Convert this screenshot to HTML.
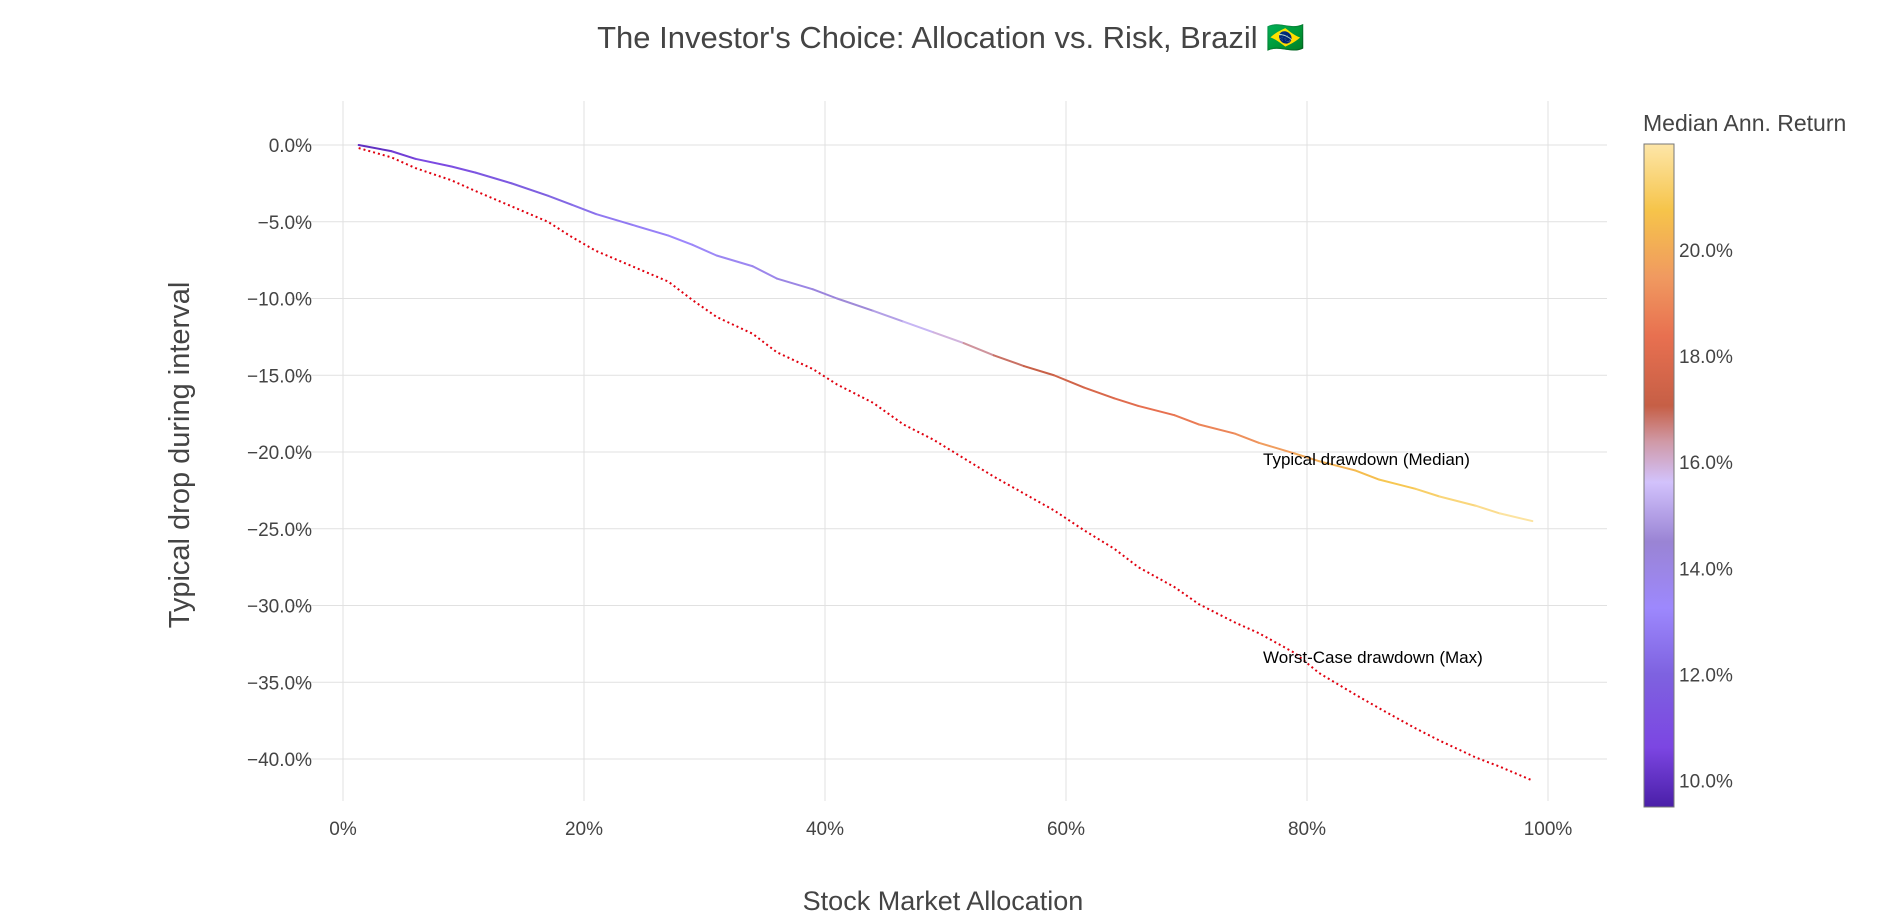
<!DOCTYPE html>
<html><head><meta charset="utf-8">
<style>
html,body{margin:0;padding:0;background:#fff;}
svg{display:block;font-family:"Liberation Sans","DejaVu Sans",sans-serif;}
</style></head>
<body>
<svg id="chart" width="1904" height="918" viewBox="0 0 1904 918">
<defs>
<linearGradient id="cbgrad" x1="0" y1="1" x2="0" y2="0"></linearGradient>
</defs>
<g id="grid"></g>
<g id="series"></g>
<g id="ticks"></g>
<text x="951" y="48" text-anchor="middle" font-size="31" fill="#444">The Investor's Choice: Allocation vs. Risk, Brazil 🇧🇷</text>
<text x="943" y="910" text-anchor="middle" font-size="27" fill="#444">Stock Market Allocation</text>
<text transform="translate(189,455) rotate(-90)" text-anchor="middle" font-size="29" fill="#444">Typical drop during interval</text>
<text x="1263" y="465" font-size="17" fill="#000">Typical drawdown (Median)</text>
<text x="1263" y="663" font-size="17" fill="#000">Worst-Case drawdown (Max)</text>
<text x="1643" y="131" font-size="23" fill="#444">Median Ann. Return</text>
<rect x="1644" y="144" width="30" height="663" fill="url(#cbgrad)" stroke="#777" stroke-width="1"/>
<g id="cbticks"></g>
</svg>
<script>
const allocation = [1.3,4,6,9,11,14,17,19,21,24,27,29,31,34,36,39,41,44,46.5,49,51.5,54,56.5,59,61.5,64,66,69,71,74,76,79,81,84,86,89,91,94,96,98.7];
const medianDD = [0,-0.4,-0.9,-1.4,-1.8,-2.5,-3.3,-3.9,-4.5,-5.2,-5.9,-6.5,-7.2,-7.9,-8.7,-9.4,-10.0,-10.8,-11.5,-12.2,-12.9,-13.7,-14.4,-15.0,-15.8,-16.5,-17.0,-17.6,-18.2,-18.8,-19.4,-20.1,-20.6,-21.2,-21.8,-22.4,-22.9,-23.5,-24.0,-24.5];
const maxDD = [-0.2,-0.8,-1.5,-2.3,-3.0,-4.0,-5.0,-6.0,-6.9,-7.9,-8.9,-10.1,-11.2,-12.3,-13.5,-14.6,-15.6,-16.8,-18.2,-19.2,-20.4,-21.6,-22.7,-23.8,-25.1,-26.3,-27.5,-28.8,-29.9,-31.1,-31.8,-33.1,-34.4,-35.8,-36.7,-38.0,-38.8,-39.9,-40.5,-41.4];
const medianReturn = [9.8,10.2,10.6,11.0,11.3,11.7,12.0,12.3,12.6,12.9,13.1,13.3,13.5,13.7,13.9,14.1,14.4,14.8,15.2,15.6,16.2,16.7,17.0,17.3,17.6,17.9,18.2,18.5,18.8,19.1,19.4,19.8,20.1,20.4,20.7,21.0,21.3,21.5,21.8,22.0];
const xTicks = [0,20,40,60,80,100];
const yTicks = [0,-5,-10,-15,-20,-25,-30,-35,-40];
const cbTicks = [10,12,14,16,18,20];

const X0=343, X100=1548, Y0=145, PY=15.35;
const PL=291, PR=1607, PT=101, PB=801;
const CBT=144, CBB=807, CMIN=9.5, CMAX=22.0;
const xs = v => X0 + (X100-X0)*v/100;
const ys = v => Y0 - v*PY;
const cs = v => CBB - (v-CMIN)/(CMAX-CMIN)*(CBB-CBT);
const NS='http://www.w3.org/2000/svg';
function mk(tag, parent, attrs){const e=document.createElementNS(NS,tag);for(const k in attrs)e.setAttribute(k,attrs[k]);parent.appendChild(e);return e;}
const grid=document.getElementById('grid'), ticks=document.getElementById('ticks'), series=document.getElementById('series'), cbt=document.getElementById('cbticks');

const stops=[[0,'#4a1fa8'],[0.09,'#7c46e2'],[0.2,'#7e62e0'],[0.30,'#9d88fd'],[0.40,'#9a84d4'],[0.49,'#d2c2fc'],[0.55,'#d09aa8'],[0.605,'#c65f46'],[0.71,'#e87050'],[0.80,'#f09a60'],[0.90,'#f6c44a'],[1,'#fde6a8']];
const grad=document.getElementById('cbgrad');
stops.forEach(s=>mk('stop',grad,{offset:s[0],'stop-color':s[1]}));

xTicks.forEach(t=>{
  const l=mk('line',grid,{x1:xs(t),x2:xs(t),y1:PT,y2:PB,stroke:'#e1e1e1','stroke-width':1});
  
  
  const tx=mk('text',ticks,{x:xs(t),y:PB+34,'text-anchor':'middle','font-size':19,fill:'#444'});
  tx.textContent=t+'%';
  
  
});
yTicks.forEach(t=>{
  const l=mk('line',grid,{x1:PL,x2:PR,y1:ys(t),y2:ys(t),stroke:'#e1e1e1','stroke-width':1});
  
  
  const tx=mk('text',ticks,{x:PL+21,y:ys(t)+7,'text-anchor':'end','font-size':19,fill:'#444'});
  tx.textContent=(t===0?'0.0':'\u2212'+Math.abs(t).toFixed(1))+'%';
  
  
});
cbTicks.forEach(t=>{
  const tx=mk('text',cbt,{x:1679,y:cs(t)+7,'font-size':19,fill:'#444'});
  tx.textContent=t.toFixed(1)+'%';
  
  
});

function hex(h){return [1,3,5].map(i=>parseInt(h.substr(i,2),16));}
function colorAt(v){
  let f=(v-CMIN)/(CMAX-CMIN); f=Math.max(0,Math.min(1,f));
  for(let i=1;i<stops.length;i++){
    if(f<=stops[i][0]){const a=hex(stops[i-1][1]),b=hex(stops[i][1]);const t=(f-stops[i-1][0])/(stops[i][0]-stops[i-1][0]);
      return 'rgb('+a.map((c,j)=>Math.round(c+(b[j]-c)*t)).join(',')+')';}
  }
  return stops[stops.length-1][1];
}

const mp=mk('polyline',series,{points:allocation.map((a,i)=>xs(a)+','+ys(maxDD[i])).join(' '),fill:'none',stroke:'#e0000f','stroke-width':2,'stroke-dasharray':'2,3'});



for(let i=0;i<allocation.length-1;i++){
  const seg=mk('line',series,{x1:xs(allocation[i]),y1:ys(medianDD[i]),x2:xs(allocation[i+1]),y2:ys(medianDD[i+1]),stroke:colorAt((medianReturn[i]+medianReturn[i+1])/2),'stroke-width':2,'stroke-linecap':'round'});
  
  
}
</script>
</body></html>
